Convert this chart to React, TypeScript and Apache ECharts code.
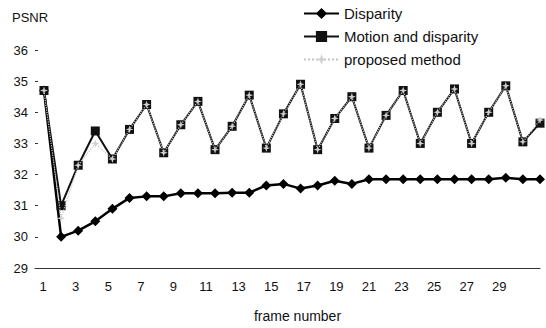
import React, { useEffect, useRef } from "react";
import * as echarts from "echarts";

const frames = [1,2,3,4,5,6,7,8,9,10,11,12,13,14,15,16,17,18,19,20,21,22,23,24,25,26,27,28,29,30];
const tickCategories = ["1","2","3","4","5","6","7","8","9","10","11","12","13","14","15","16","17","18","19","20","21","22","23","24","25","26","27","28","29","30","31"];
const disparity = [34.7,30.0,30.2,30.5,30.9,31.25,31.3,31.3,31.4,31.4,31.4,31.42,31.42,31.65,31.7,31.55,31.65,31.8,31.7,31.85,31.85,31.85,31.85,31.85,31.85,31.85,31.85,31.9,31.85,31.85];
const motionDisparity = [34.7,31.0,32.3,33.4,32.5,33.45,34.25,32.7,33.6,34.35,32.8,33.55,34.55,32.85,33.95,34.9,32.8,33.8,34.5,32.85,33.9,34.7,33.0,34.0,34.75,33.0,34.0,34.85,33.05,33.65];
const proposed = [34.7,30.6,32.3,33.0,32.5,33.45,34.25,32.7,33.6,34.35,32.8,33.55,34.55,32.85,33.95,34.9,32.8,33.8,34.5,32.85,33.9,34.7,33.0,34.0,34.75,33.0,34.0,34.85,33.05,33.75];

const pair = (vals: number[]) => frames.map((f, i) => [f, vals[i]]);

export default function App() {
  const ref = useRef<HTMLDivElement>(null);
  useEffect(() => {
    if (!ref.current) return;
    const chart = echarts.init(ref.current, null, { renderer: "svg" });
    const font = "'Liberation Sans', Arial, sans-serif";
    const star = "path://M5,0L6.2,3.8L10,5L6.2,6.2L5,10L3.8,6.2L0,5L3.8,3.8Z";
    chart.setOption({
      animation: false,
      backgroundColor: "#fff",
      textStyle: { fontFamily: font },
      title: {
        text: "PSNR",
        left: 7,
        top: 6,
        textStyle: { fontSize: 13, fontWeight: "normal", color: "#111", fontFamily: font },
      },
      legend: {
        orient: "vertical",
        left: 298,
        top: 1,
        itemWidth: 35,
        itemHeight: 14,
        itemGap: 8,
        textStyle: { fontSize: 15, color: "#111", fontFamily: font },
        data: ["Disparity", "Motion and disparity", "proposed method"],
      },
      grid: { left: 35, right: 6, top: 50, bottom: 56, containLabel: false },
      xAxis: [
        {
          type: "category",
          data: tickCategories,
          boundaryGap: true,
          name: "frame number",
          nameLocation: "middle",
          nameGap: 41,
          nameTextStyle: { fontSize: 14, color: "#111", padding: [0, 0, 0, 20] },
          axisLine: { lineStyle: { color: "#333", width: 1 } },
          axisTick: { inside: true, length: 4, interval: 1, lineStyle: { color: "#333" } },
          axisLabel: {
            interval: 1,
            fontSize: 13,
            color: "#111",
            margin: 12,
            formatter: (v: string) => (v === "31" ? "" : v),
          },
        },
        {
          type: "value",
          min: 0.474,
          max: 30,
          show: false,
          splitLine: { show: false },
        },
      ],
      yAxis: {
        type: "value",
        min: 29,
        max: 36,
        interval: 1,
        axisLine: { show: false },
        axisTick: { show: true, inside: true, length: 3, lineStyle: { color: "#333" } },
        axisLabel: { fontSize: 13, color: "#111", margin: 7 },
        splitLine: { show: false },
      },
      series: [
        {
          name: "Disparity",
          type: "line",
          xAxisIndex: 1,
          data: pair(disparity),
          symbol: "diamond",
          symbolSize: 10,
          clip: false,
          lineStyle: { color: "#000", width: 2.5 },
          itemStyle: { color: "#000" },
          z: 2,
        },
        {
          name: "Motion and disparity",
          type: "line",
          xAxisIndex: 1,
          data: pair(motionDisparity),
          symbol: "rect",
          symbolSize: 9,
          clip: false,
          lineStyle: { color: "#111", width: 2 },
          itemStyle: { color: "#111" },
          z: 3,
        },
        {
          name: "proposed method",
          type: "line",
          xAxisIndex: 1,
          data: pair(proposed),
          symbol: star,
          symbolSize: 8,
          clip: false,
          lineStyle: { color: "#c4c4c4", width: 1.2, type: "dotted" },
          itemStyle: { color: "#cfcfcf" },
          z: 4,
        },
      ],
    });
    return () => chart.dispose();
  }, []);
  return (
    <div
      ref={ref}
      style={{ position: "absolute", left: 0, top: 0, width: 546, height: 328 }}
    />
  );
}
